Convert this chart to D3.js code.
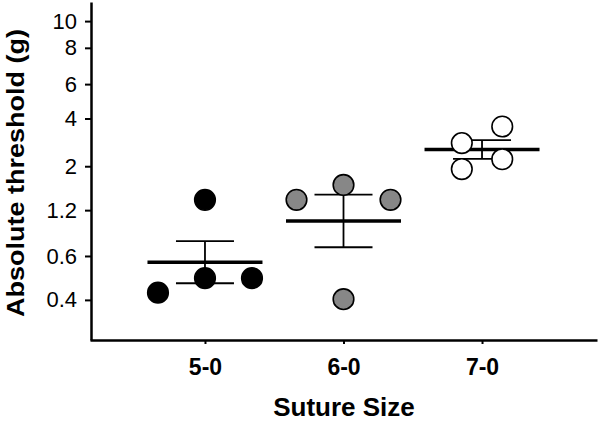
<!DOCTYPE html>
<html>
<head>
<meta charset="utf-8">
<script src="https://cdn.jsdelivr.net/npm/d3@7"></script>
<style>
  html, body { margin: 0; padding: 0; background: #fff; }
  svg { display: block; }
</style>
</head>
<body>
<svg id="chart" width="600" height="423"></svg>
<script>
// ---- Data (y values in the axis' linear filament units; labels in grams) ----
const categories = ["5-0", "6-0", "7-0"];
const values50 = [4.134, 3.648, 3.724, 3.724];
const values60 = [4.212, 4.134, 4.134, 3.614];
const values70 = [4.431, 4.518, 4.347, 4.295];
const slots50 = [0, -1, 0, 1];
const slots60 = [0, -1, 1, 0];
const slots70 = [-0.43, 0.43, 0.43, -0.43];
const groupFills = ["#000000", "#878787", "#ffffff"];
const yTickValues = [3.61, 3.84, 4.08, 4.31, 4.56, 4.74, 4.93, 5.07];
const yTickLabels = ["0.4", "0.6", "1.2", "2", "4", "6", "8", "10"];
const xTitle = "Suture Size";
const yTitle = "Absolute threshold (g)";

const groups = [
  { cat: categories[0], values: values50, slots: slots50, fill: groupFills[0] },
  { cat: categories[1], values: values60, slots: slots60, fill: groupFills[1] },
  { cat: categories[2], values: values70, slots: slots70, fill: groupFills[2] }
];

const svg = d3.select("#chart");
const x = d3.scalePoint().domain(categories).range([90, 597]).padding(0.83).align(0.5);
const y = d3.scaleLinear().domain([3.40, 5.17]).range([340, 2]);
const jitter = d3.scaleLinear().domain([-1, 1]).range([-47, 47]);

// Axes
const yAxis = d3.axisLeft(y).tickValues(yTickValues)
  .tickFormat((d, i) => yTickLabels[i]).tickSize(6).tickSizeOuter(0).tickPadding(8);
const gy = svg.append("g").attr("transform", "translate(91,0)").call(yAxis);
gy.select(".domain").attr("stroke", "#000").attr("stroke-width", 2.5);
gy.selectAll(".tick line").attr("stroke", "#000").attr("stroke-width", 2);
gy.selectAll(".tick text").attr("font-family", "Liberation Sans, Arial, sans-serif")
  .attr("font-size", 22).attr("fill", "#000");

const xAxis = d3.axisBottom(x).tickSize(4).tickSizeOuter(0).tickPadding(15);
const gx = svg.append("g").attr("transform", "translate(0,340)").call(xAxis);
gx.select(".domain").attr("stroke", "#000").attr("stroke-width", 2.5);
gx.selectAll(".tick line").attr("stroke", "#000").attr("stroke-width", 2);
gx.selectAll(".tick text").attr("font-family", "Liberation Sans, Arial, sans-serif")
  .attr("font-size", 23).attr("font-weight", "bold").attr("fill", "#000");

// Titles
svg.append("text").attr("x", 344).attr("y", 416).attr("text-anchor", "middle")
  .attr("font-family", "Liberation Sans, Arial, sans-serif").attr("font-weight", "bold")
  .attr("font-size", 26).text(xTitle);
svg.append("text").attr("transform", "translate(24,173) rotate(-90)").attr("text-anchor", "middle")
  .attr("font-family", "Liberation Sans, Arial, sans-serif").attr("font-weight", "bold")
  .attr("font-size", 24).attr("textLength", 288).attr("lengthAdjust", "spacingAndGlyphs")
  .text(yTitle);

// Mean & SEM
const stats = groups.map(g => {
  const m = d3.mean(g.values);
  const sem = d3.deviation(g.values) / Math.sqrt(g.values.length);
  return { cat: g.cat, mean: m, lo: m - sem, hi: m + sem };
});

const gStats = svg.append("g").attr("stroke", "#000");
stats.forEach(s => {
  const cx = x(s.cat);
  gStats.append("line").attr("x1", cx).attr("x2", cx).attr("y1", y(s.hi)).attr("y2", y(s.lo))
    .attr("stroke-width", 1.8);
  gStats.append("line").attr("x1", cx - 29).attr("x2", cx + 29).attr("y1", y(s.hi)).attr("y2", y(s.hi))
    .attr("stroke-width", 1.8);
  gStats.append("line").attr("x1", cx - 29).attr("x2", cx + 29).attr("y1", y(s.lo)).attr("y2", y(s.lo))
    .attr("stroke-width", 1.8);
  gStats.append("line").attr("x1", cx - 57.5).attr("x2", cx + 57.5).attr("y1", y(s.mean)).attr("y2", y(s.mean))
    .attr("stroke-width", 3.5);
});

// Points
groups.forEach(g => {
  svg.append("g").selectAll("circle")
    .data(g.values.map((v, i) => ({ v, s: g.slots[i] })))
    .join("circle")
    .attr("cx", d => x(g.cat) + jitter(d.s))
    .attr("cy", d => y(d.v))
    .attr("r", 10.3)
    .attr("fill", g.fill)
    .attr("stroke", "#000")
    .attr("stroke-width", 1.6);
});
</script>
</body>
</html>
